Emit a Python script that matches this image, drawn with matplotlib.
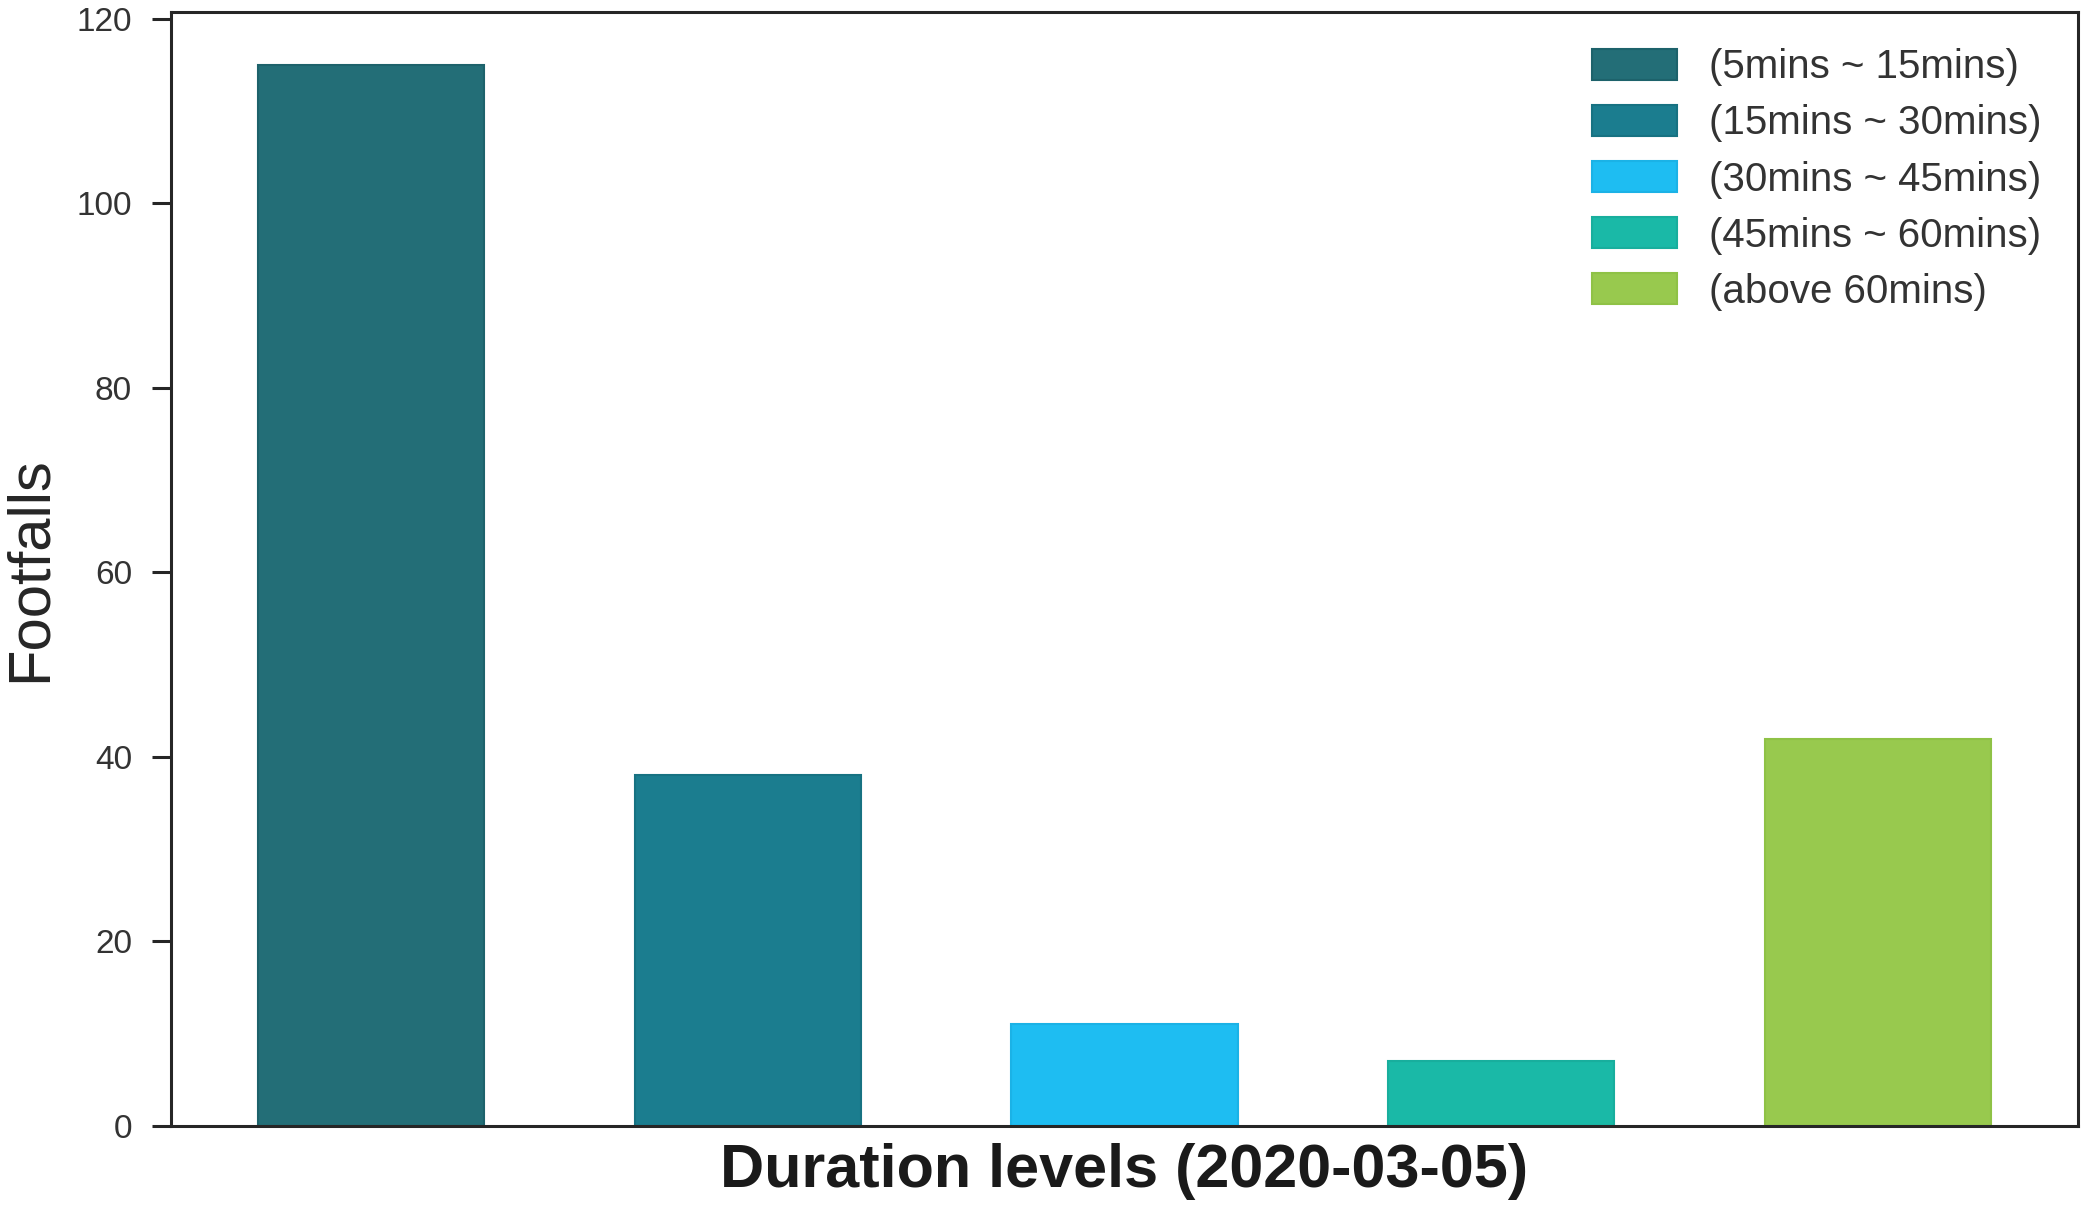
import numpy as np
import matplotlib
matplotlib.use("Agg")
import matplotlib.pyplot as plt

plt.rcParams['font.family'] = ['Liberation Sans', 'DejaVu Sans']

# data
levels = ["(5mins ~ 15mins)", "(15mins ~ 30mins)", "(30mins ~ 45mins)",
          "(45mins ~ 60mins)", "(above 60mins)"]
footfalls = [115, 38, 11, 7, 42]
colors = ["#236e77", "#1b7d8f", "#1ebdf2", "#1ab9a7", "#98c94e"]
edges = ["#1d626b", "#177282", "#1bb2e6", "#18ae9d", "#8fc246"]

fig = plt.figure(figsize=(20.85, 12.05), dpi=100)
ax = fig.add_axes([0.082, 0.0656, 0.9146, 0.9244])

x = np.arange(len(levels))
bars = ax.bar(x, footfalls, width=0.6, color=colors, edgecolor=edges, linewidth=1.5)
for b, lab in zip(bars, levels):
    b.set_label(lab)

ax.set_ylim(0, max(footfalls) * 1.05)
ax.set_yticks(np.arange(0, 121, 20))
ax.set_xticks([])

for sp in ax.spines.values():
    sp.set_color("#262626")
    sp.set_linewidth(2.2)

ax.tick_params(axis="y", length=14, width=2.2, color="#262626",
               labelsize=24, labelcolor="#333333", pad=14)

ax.set_ylabel("Footfalls", fontsize=43, color="#262626", labelpad=14)
ax.set_xlabel("Duration levels (2020-03-05)", fontsize=44, fontweight="bold",
              color="#1a1a1a", labelpad=12)

leg = ax.legend(loc="upper right", frameon=False, fontsize=29,
                handlelength=2.1, handleheight=0.8, handletextpad=0.8,
                labelspacing=0.45)
for t in leg.get_texts():
    t.set_color("#333333")

fig.savefig("out.png", dpi=100)
